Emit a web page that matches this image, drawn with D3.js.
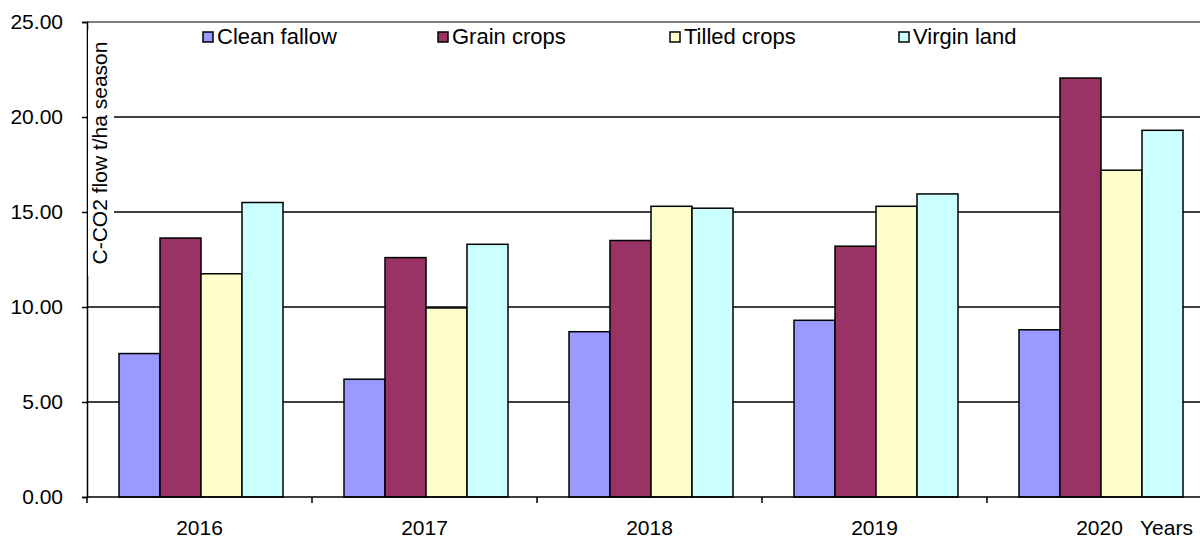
<!doctype html>
<html>
<head>
<meta charset="utf-8"/>
<script src="https://d3js.org/d3.v7.min.js"></script>
<style>
body{margin:0;background:#fff;}
text{font-family:"Liberation Sans",Arial,sans-serif;}
</style>
</head>
<body>
<script>
var width=1200, height=540;
var years=["2016","2017","2018","2019","2020"];
var series=["Clean fallow","Grain crops","Tilled crops","Virgin land"];
var colors=["#9999ff","#993366","#ffffcc","#ccffff"];
var cleanFallow=[7.55,6.2,8.7,9.3,8.8];
var grainCrops=[13.63,12.6,13.5,13.2,22.05];
var tilledCrops=[11.75,9.95,15.3,15.3,17.2];
var virginLand=[15.5,13.3,15.2,15.95,19.3];
var yTicks=[0,5,10,15,20,25];
var values=[cleanFallow,grainCrops,tilledCrops,virginLand];

var svg=d3.select("body").append("svg").attr("width",width).attr("height",height);

var x0=d3.scaleBand().domain(years).range([87,87+5*225]);
var x1=d3.scaleBand().domain(series).range([32,196]);
var y=d3.scaleLinear().domain([0,25]).range([497,22]);

// gridlines
svg.selectAll("line.grid").data(yTicks.filter(function(d){return d>0;}))
  .enter().append("line").attr("class","grid")
  .attr("x1",87).attr("x2",width)
  .attr("y1",function(d){return y(d);}).attr("y2",function(d){return y(d);})
  .attr("stroke",function(d){return d==25?"#808080":"#000";})
  .attr("stroke-width",function(d){return d==25?2:1.5;});

// bars
var groups=svg.selectAll("g.year").data(years).enter().append("g")
  .attr("transform",function(d){return "translate("+x0(d)+",0)";});
groups.selectAll("rect").data(function(d,i){return series.map(function(s,j){return {s:s,j:j,v:values[j][i]};});})
  .enter().append("rect")
  .attr("x",function(d){return x1(d.s);})
  .attr("width",x1.bandwidth())
  .attr("y",function(d){return y(d.v);})
  .attr("height",function(d){return y(0)-y(d.v);})
  .attr("fill",function(d){return colors[d.j];})
  .attr("stroke","#000").attr("stroke-width",1.5);

// y axis
var yAxis=d3.axisLeft(y).tickValues(yTicks).tickSize(5).tickPadding(19)
  .tickFormat(d3.format(".2f"));
var ya=svg.append("g").attr("transform","translate(87,0)").call(yAxis);
ya.select(".domain").attr("stroke","#000").attr("stroke-width",1.5);
ya.selectAll(".tick line").attr("stroke","#000").attr("stroke-width",1.5);
ya.selectAll(".tick text").attr("font-size",21).attr("fill","#000")
  .attr("font-family","'Liberation Sans',Arial,sans-serif");

// x axis
var xa=svg.append("g").attr("transform","translate(0,497)");
xa.append("line").attr("x1",87).attr("x2",width).attr("stroke","#000").attr("stroke-width",1.5);
xa.selectAll("line.t").data(years).enter().append("line").attr("class","t")
  .attr("x1",function(d){return x0(d);}).attr("x2",function(d){return x0(d);})
  .attr("y1",0).attr("y2",6).attr("stroke","#000").attr("stroke-width",1.5);
xa.selectAll("text").data(years).enter().append("text")
  .attr("x",function(d){return x0(d)+x0.bandwidth()/2;}).attr("y",38)
  .attr("text-anchor","middle").attr("font-size",21).text(function(d){return d;});
svg.append("text").attr("x",1140).attr("y",535).attr("font-size",21).text("Years");

// y label with white box
svg.append("rect").attr("x",88).attr("y",30).attr("width",26).attr("height",246).attr("fill","#fff");
svg.append("text").attr("transform","translate(107,153) rotate(-90)")
  .attr("text-anchor","middle").attr("font-size",21).text("C-CO2 flow t/ha season");

// legend
var legX=[203,438,670,899];
var leg=svg.selectAll("g.leg").data(series).enter().append("g")
  .attr("transform",function(d,i){return "translate("+legX[i]+",37)";});
leg.append("rect").attr("x",0).attr("y",-5).attr("width",10).attr("height",10)
  .attr("fill",function(d,i){return colors[i];}).attr("stroke","#000").attr("stroke-width",1.5);
leg.append("text").attr("x",14).attr("y",7).attr("font-size",22).text(function(d){return d;});
</script>
</body>
</html>
